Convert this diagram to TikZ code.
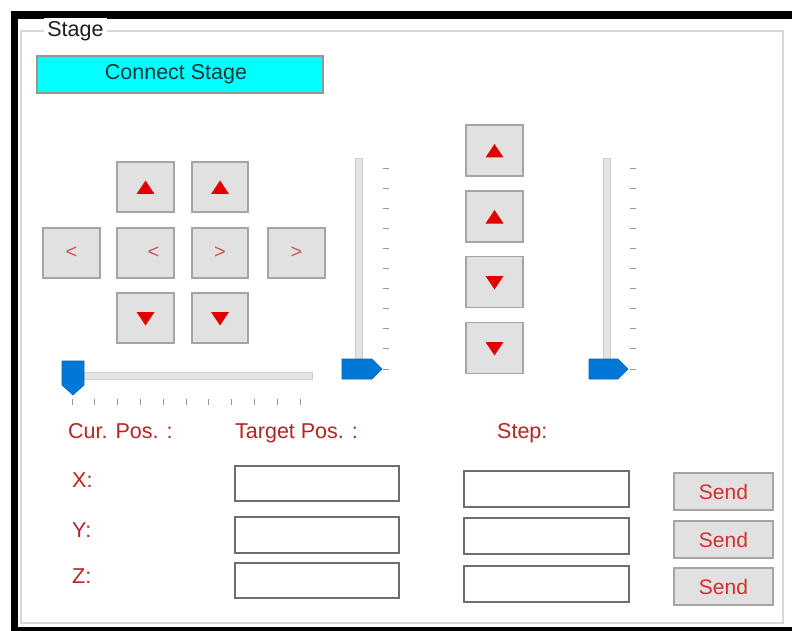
\documentclass[tikz,border=0pt]{standalone}
\usepackage{fontspec}
\setmainfont{Liberation Sans}
\definecolor{btnfill}{RGB}{225,225,225}
\definecolor{btnedge}{RGB}{165,165,165}
\definecolor{glyph}{RGB}{205,85,95}
\definecolor{trired}{RGB}{225,0,0}
\definecolor{lbl}{RGB}{185,35,35}
\definecolor{sendred}{RGB}{215,45,45}
\definecolor{boxedge}{RGB}{110,110,110}
\definecolor{grpline}{RGB}{215,215,215}
\definecolor{thumb}{RGB}{0,120,215}
\definecolor{track}{RGB}{228,228,228}
\definecolor{trackedge}{RGB}{205,205,205}
\definecolor{tick}{RGB}{150,150,150}
\definecolor{cyanbtn}{RGB}{0,255,255}
\newcommand\uptri[1]{\fill[trired] ([shift={(-9,7)}]#1.center) -- ([shift={(9,7)}]#1.center) -- ([shift={(0,-6.5)}]#1.center) -- cycle;}
\newcommand\dntri[1]{\fill[trired] ([shift={(-9,-6)}]#1.center) -- ([shift={(9,-6)}]#1.center) -- ([shift={(0,7.5)}]#1.center) -- cycle;}
\begin{document}
\begin{tikzpicture}[x=1pt,y=-1pt,
  btn/.style={draw=btnedge, fill=btnfill, line width=1.4pt, minimum width=57pt, minimum height=50pt, inner sep=0pt, font=\fontsize{20}{20}\selectfont, text=glyph},
  mbtn/.style={btn, minimum height=51pt},
  lab/.style={anchor=base west, inner sep=0pt, text=lbl, font=\fontsize{21.5}{22}\selectfont},
  tbox/.style={draw=boxedge, fill=white, line width=1.4pt, minimum width=164pt, minimum height=35pt, inner sep=0pt},
  sendbtn/.style={draw=btnedge, fill=btnfill, line width=1.4pt, minimum width=99pt, minimum height=37pt, inner sep=0pt, text=sendred, font=\fontsize{21}{21}\selectfont},
  trk/.style={fill=track, draw=trackedge, line width=0.8pt},
  thm/.style={fill=thumb, draw=thumb!85!black, line width=0.6pt},
  tk/.style={draw=tick, line width=0.9pt}]
\useasboundingbox (0,0) rectangle (792,631);
\clip (0,0) rectangle (792,631);
% outer black frame
\fill[black] (11,11) rectangle (810,650);
\fill[white] (18,19) rectangle (810,627);
% group box
\draw[grpline, line width=1.2pt] (21,31) rectangle (783,623);
\node[fill=white, inner sep=3pt, font=\fontsize{21.5}{22}\selectfont, text={rgb,255:red,30;green,30;blue,30}] (title) at (75.5,31) {Stage};
% connect button
\node[draw={rgb,255:red,150;green,150;blue,150}, fill=cyanbtn, line width=1.4pt, minimum width=286pt, minimum height=37pt, inner sep=0pt, font=\fontsize{21.5}{22}\selectfont, text={rgb,255:red,20;green,55;blue,55}] (connect) at (180,74.5) {\hspace*{-8pt}Connect Stage};
% left button cluster
\node[btn] (u1) at (145.5,187) {};
\node[btn, minimum width=56pt] (u2) at (220,187) {};
\node[btn] (l2) at (71.5,253) {<};
\node[btn] (l1) at (145.5,253) {\hspace*{16pt}<};
\node[btn, minimum width=56pt] (r1) at (220,253) {>};
\node[btn] (r2) at (296.5,253) {>};
\node[btn] (d1) at (145.5,318) {};
\node[btn, minimum width=56pt] (d2) at (220,318) {};
\uptri{u1}\uptri{u2}\dntri{d1}\dntri{d2}
% middle column
\node[mbtn] (m1) at (494.5,150.5) {};
\node[mbtn] (m2) at (494.5,216.5) {};
\node[mbtn] (m3) at (494.5,282) {};
\node[mbtn] (m4) at (494.5,348) {};
\uptri{m1}\uptri{m2}\dntri{m3}\dntri{m4}
% horizontal slider
\draw[trk] (83,372) rectangle (312,379);
\foreach \i in {0,...,10} \draw[tk] (72+22.8*\i,399) -- (72+22.8*\i,405);
\draw[thm] (62,361) -- (84,361) -- (84,385) -- (73,395) -- (62,385) -- cycle;
% vertical slider 1
\draw[trk] (355,158) rectangle (362,373);
\foreach \i in {0,...,10} \draw[tk] (383,168+20.1*\i) -- (389,168+20.1*\i);
\draw[thm] (342,359) -- (372,359) -- (382,369) -- (372,379) -- (342,379) -- cycle;
% vertical slider 2
\draw[trk] (603,158) rectangle (610,373);
\foreach \i in {0,...,10} \draw[tk] (630,168+20.1*\i) -- (636,168+20.1*\i);
\draw[thm] (589,359) -- (618,359) -- (628,369) -- (618,379) -- (589,379) -- cycle;
% labels
\node[lab] (cur) at (68,438) {Cur. Pos. :};
\node[lab] (tgt) at (235,438) {Target Pos. :};
\node[lab] (stp) at (497,438) {Step:};
\node[lab] (lx) at (72,487) {X:};
\node[lab] (ly) at (72,537) {Y:};
\node[lab] (lz) at (72,583) {Z:};
% text boxes
\node[tbox] (t1) at (317,483.5) {};
\node[tbox, minimum height=36pt] (t2) at (317,535) {};
\node[tbox] (t3) at (317,580.5) {};
\node[tbox, minimum width=165pt, minimum height=36pt] (s1) at (546.5,489) {};
\node[tbox, minimum width=165pt, minimum height=36pt] (s2) at (546.5,536) {};
\node[tbox, minimum width=165pt, minimum height=36pt] (s3) at (546.5,584) {};
% send buttons
\node[sendbtn] (send1) at (723.5,491.5) {Send};
\node[sendbtn] (send2) at (723.5,539.5) {Send};
\node[sendbtn] (send3) at (723.5,586.5) {Send};
\end{tikzpicture}
\end{document}
